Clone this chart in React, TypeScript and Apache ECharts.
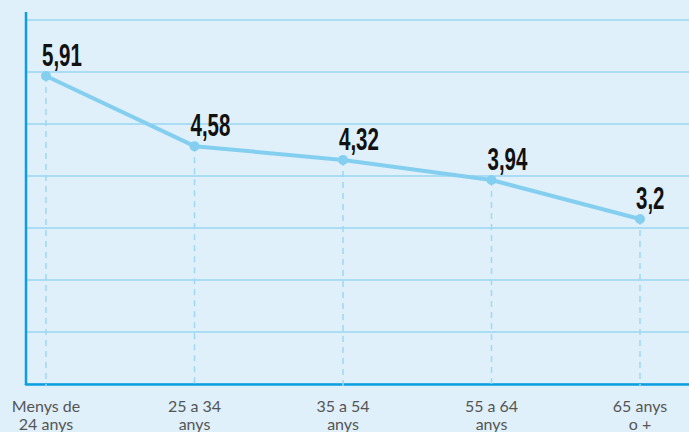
import React, { useEffect, useRef } from "react";
import * as echarts from "echarts";

const categories = ["Menys de\n24 anys", "25 a 34\nanys", "35 a 54\nanys", "55 a 64\nanys", "65 anys\no +"];
const values = [5.91, 4.58, 4.32, 3.94, 3.2];
const gridMin = 0;
const gridMax = 7;
const gridInterval = 1;
const dataMin = 0.17;
const dataMax = 6.97;
const dropBottom = 0.03;

const fmt = (v: number) => String(v).replace(".", ",");

export default function App() {
  const ref = useRef<HTMLDivElement>(null);
  useEffect(() => {
    document.body.style.margin = "0";
    document.body.style.background = "#dff0fb";
    const chart = echarts.init(ref.current!, null, { renderer: "svg" });
    const top = 20;
    const height = 364;
    chart.setOption({
      animation: false,
      backgroundColor: "#dff0fb",
      grid: [
        { left: 46, right: 49, top, height },
        { left: 26, right: 0, top, height },
      ],
      xAxis: [
        {
          type: "category",
          gridIndex: 0,
          data: categories,
          boundaryGap: false,
          axisLine: { show: false },
          axisTick: { show: false },
          splitLine: { show: false },
          axisLabel: {
            color: "#555",
            fontSize: 16,
            fontFamily: "Lato",
            lineHeight: 18,
            margin: 17,
            interval: 0,
          },
        },
        {
          type: "value",
          gridIndex: 1,
          min: 0,
          max: 1,
          axisLine: { show: true, lineStyle: { color: "#0b9fe0", width: 2.5 } },
          axisTick: { show: false },
          axisLabel: { show: false },
          splitLine: { show: false },
        },
      ],
      yAxis: [
        {
          type: "value",
          gridIndex: 0,
          min: dataMin,
          max: dataMax,
          show: false,
          splitLine: { show: false },
        },
        {
          type: "value",
          gridIndex: 1,
          min: gridMin,
          max: gridMax,
          interval: gridInterval,
          axisLine: { show: false },
          axisTick: { show: false },
          axisLabel: { show: false },
          splitLine: { show: true, lineStyle: { color: "#aadcf4", width: 2 } },
        },
      ],
      graphic: [
        {
          type: "line",
          shape: { x1: 26, y1: 12, x2: 26, y2: 385 },
          style: { stroke: "#0b9fe0", lineWidth: 2.5 },
          z: 10,
        },
      ],
      series: [
        {
          type: "custom",
          xAxisIndex: 0,
          yAxisIndex: 0,
          clip: false,
          z: 1,
          silent: true,
          data: values.map((v, i) => [i, v]),
          encode: { x: 0, y: 1 },
          renderItem: (params: any, api: any) => {
            const i = api.value(0);
            const v = api.value(1);
            const p = api.coord([i, v]);
            const b = api.coord([i, dropBottom]);
            return {
              type: "line",
              shape: { x1: p[0], y1: p[1], x2: b[0], y2: b[1] },
              style: { stroke: "#9fd8f2", lineWidth: 1.5, lineDash: [6, 5] },
            };
          },
        },
        {
          type: "line",
          xAxisIndex: 0,
          yAxisIndex: 0,
          data: values,
          clip: false,
          symbol: "circle",
          symbolSize: 10,
          itemStyle: { color: "#84cff0" },
          lineStyle: { color: "#84cff0", width: 4 },
          z: 5,
          label: { show: false },
        },
        {
          type: "custom",
          xAxisIndex: 0,
          yAxisIndex: 0,
          clip: false,
          z: 6,
          silent: true,
          data: values.map((v, i) => [i, v]),
          encode: { x: 0, y: 1 },
          renderItem: (params: any, api: any) => {
            const v = api.value(1);
            const p = api.coord([api.value(0), v]);
            return {
              type: "text",
              x: p[0] - 4,
              y: p[1] - 5,
              scaleX: 0.64,
              style: {
                text: fmt(v),
                fill: "#111",
                font: "bold 32px 'Liberation Sans', Arial, sans-serif",
                align: "left",
                verticalAlign: "bottom",
              },
            };
          },
        },
      ],
    });
    return () => chart.dispose();
  }, []);
  return <div ref={ref} style={{ width: 689, height: 432 }} />;
}
